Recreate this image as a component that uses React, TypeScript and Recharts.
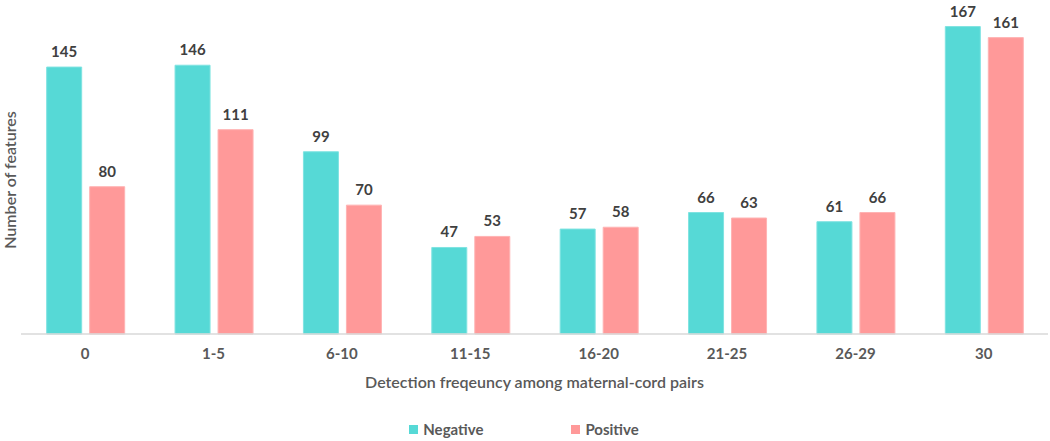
import { BarChart, Bar, XAxis, YAxis, Legend, LabelList } from 'recharts';

const categories = ['0', '1-5', '6-10', '11-15', '16-20', '21-25', '26-29', '30'];
const negativeValues = [145, 146, 99, 47, 57, 66, 61, 167];
const positiveValues = [80, 111, 70, 53, 58, 63, 66, 161];

const COLORS = {
  negative: '#56d9d6',
  positive: '#ff9999',
  text: '#404040',
  axisText: '#595959',
  axisLine: '#d9d9d9',
};

const FONT = 'Lato, "Open Sans", sans-serif';

const data = categories.map((name, i) => ({
  name,
  Negative: negativeValues[i],
  Positive: positiveValues[i],
}));

const LegendContent = () => (
  <div
    style={{
      display: 'flex',
      justifyContent: 'center',
      gap: 88,
      paddingTop: 21,
      fontFamily: FONT,
      fontSize: 15,
      fontWeight: 700,
      color: COLORS.axisText,
    }}
  >
    {[
      { label: 'Negative', color: COLORS.negative },
      { label: 'Positive', color: COLORS.positive },
    ].map((item) => (
      <div key={item.label} style={{ display: 'flex', alignItems: 'center', gap: 5 }}>
        <span style={{ width: 9, height: 9, background: item.color, display: 'inline-block' }} />
        <span>{item.label}</span>
      </div>
    ))}
  </div>
);

export default function App() {
  return (
    <div style={{ position: 'absolute', left: 0, top: 0, background: '#fff' }}>
      <BarChart
        width={1050}
        height={441}
        data={data}
        margin={{ top: 10, right: 2, bottom: 0, left: 0 }}
        barGap={8}
        barCategoryGap="20%"
      >
        <XAxis
          dataKey="name"
          height={65}
          tickLine={false}
          axisLine={{ stroke: COLORS.axisLine, strokeWidth: 1.5 }}
          tickMargin={8}
          tick={{ fill: COLORS.axisText, fontSize: 15, fontWeight: 700, fontFamily: FONT }}
          label={{
            value: 'Detection freqeuncy among maternal-cord pairs',
            position: 'insideBottom',
            offset: 11,
            style: { fill: COLORS.axisText, fontSize: 16, fontWeight: 600, fontFamily: FONT },
          }}
        />
        <YAxis
          width={21}
          domain={[0, 176]}
          tick={false}
          tickLine={false}
          axisLine={false}
          label={{
            value: 'Number of features',
            angle: -90,
            position: 'insideLeft',
            offset: 10,
            dy: 8,
            style: { textAnchor: 'middle', fill: COLORS.axisText, fontSize: 16, fontWeight: 600, fontFamily: FONT },
          }}
        />
        <Legend verticalAlign="bottom" wrapperStyle={{ height: 42 }} content={<LegendContent />} />
        <Bar dataKey="Negative" fill={COLORS.negative} stroke="#7fe3e1" strokeWidth={1} isAnimationActive={false}>
          <LabelList
            dataKey="Negative"
            position="top"
            offset={10}
            style={{ fill: COLORS.text, fontSize: 15, fontWeight: 700, fontFamily: FONT }}
          />
        </Bar>
        <Bar dataKey="Positive" fill={COLORS.positive} stroke="#ffb3b3" strokeWidth={1} isAnimationActive={false}>
          <LabelList
            dataKey="Positive"
            position="top"
            offset={10}
            style={{ fill: COLORS.text, fontSize: 15, fontWeight: 700, fontFamily: FONT }}
          />
        </Bar>
      </BarChart>
    </div>
  );
}
